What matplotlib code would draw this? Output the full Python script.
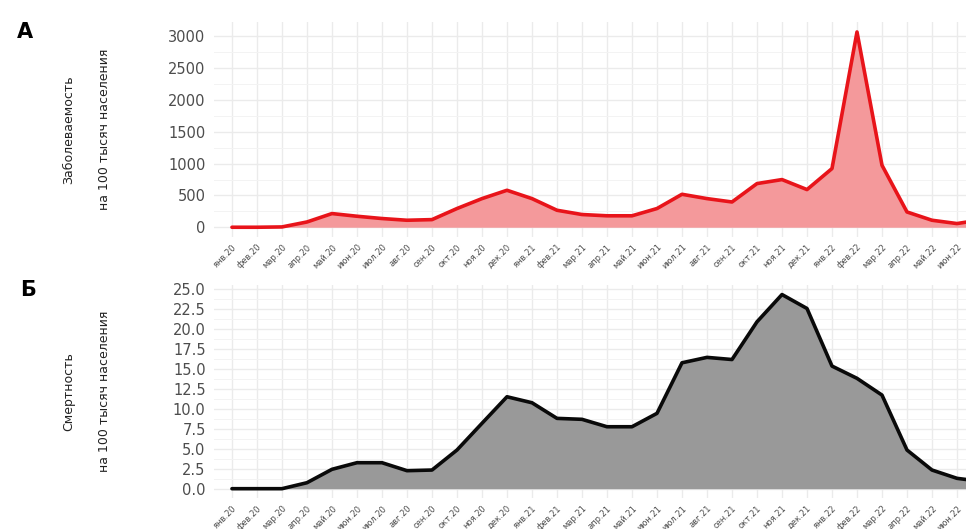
import matplotlib
matplotlib.use("Agg")
import matplotlib.pyplot as plt
from matplotlib.ticker import MultipleLocator, FixedLocator

# Monthly series, Jan 2020 – Jul 2022
months = ["янв", "фев", "мар", "апр", "май", "июн",
          "июл", "авг", "сен", "окт", "ноя", "дек"]
years = ["20", "21", "22"]
month_labels = [f"{m}.{y}" for y in years for m in months][:31]

incidence = [0, 0, 5, 83, 215, 173, 137, 110, 120, 294, 450, 581,
             450, 267, 200, 180, 180, 294, 518, 450, 397, 686, 749,
             592, 922, 3068, 974, 240, 110, 58, 120]

mortality = [0, 0, 0, 0.75, 2.43, 3.26, 3.26, 2.26, 2.34, 4.85, 8.2,
             11.53, 10.78, 8.82, 8.7, 7.77, 7.77, 9.45, 15.79, 16.47,
             16.2, 20.93, 24.35, 22.6, 15.38, 13.84, 11.74, 4.85, 2.34,
             1.3, 0.9]

panel_letters = ["А", "Б"]
y_titles = [("Заболеваемость", "на 100 тысяч населения"),
            ("Смертность", "на 100 тысяч населения")]

fig = plt.figure(figsize=(9.66, 5.29), dpi=100)
ax1 = fig.add_axes([0.2215, 0.552, 0.7785, 0.406])
ax2 = fig.add_axes([0.2215, 0.0578, 0.7785, 0.4038])

x = list(range(len(month_labels)))
grid_col = "#ebebeb"
tick_col = "#4d4d4d"


def style(ax, values, line_col, fill_col, major, minor, fmt, ylim):
    ax.fill_between(x, 0, values, color=fill_col, zorder=2, linewidth=0)
    ax.plot(x, values, color=line_col, lw=2.6, zorder=3,
            solid_joinstyle="round", solid_capstyle="round")
    ax.set_xlim(-0.72, 29.36)
    ax.set_ylim(*ylim)
    ax.xaxis.set_major_locator(FixedLocator(x))
    ax.set_xticklabels(month_labels, rotation=45, ha="right",
                       rotation_mode="anchor", fontsize=6, color=tick_col)
    ax.yaxis.set_major_locator(MultipleLocator(major))
    ax.yaxis.set_minor_locator(MultipleLocator(minor))
    ax.yaxis.set_major_formatter(fmt)
    ax.tick_params(axis="y", labelsize=10.5, labelcolor=tick_col, length=0, pad=6)
    ax.tick_params(axis="x", length=0, pad=4)
    ax.tick_params(axis="y", which="minor", length=0)
    ax.grid(True, which="major", color=grid_col, lw=1.0, zorder=0)
    ax.grid(True, which="minor", axis="y", color="#f3f3f3", lw=0.7, zorder=0)
    for s in ax.spines.values():
        s.set_visible(False)
    ax.set_facecolor("white")


style(ax1, incidence, "#e8141a", "#f4999b", 500, 250,
      lambda v, p: f"{v:.0f}", (-153, 3221))
style(ax2, mortality, "#0a0a0a", "#999999", 2.5, 1.25,
      lambda v, p: f"{v:.1f}", (-1.22, 25.57))

# two-line axis titles, rotated, lines set wide apart
for (line1, line2), yc in zip(y_titles, [129.5, 391.6]):
    for txt, xc in [(line1, 69), (line2, 105)]:
        fig.text(xc / 966, 1 - yc / 529, txt, rotation=90,
                 fontsize=9, color="#222222", ha="center", va="center")

fig.text(25 / 966, 1 - 32 / 529, panel_letters[0], fontsize=15,
         fontweight="bold", ha="center", va="center")
fig.text(28 / 966, 1 - 290 / 529, panel_letters[1], fontsize=15,
         fontweight="bold", ha="center", va="center")

fig.savefig("out.png", dpi=100, facecolor="white")
